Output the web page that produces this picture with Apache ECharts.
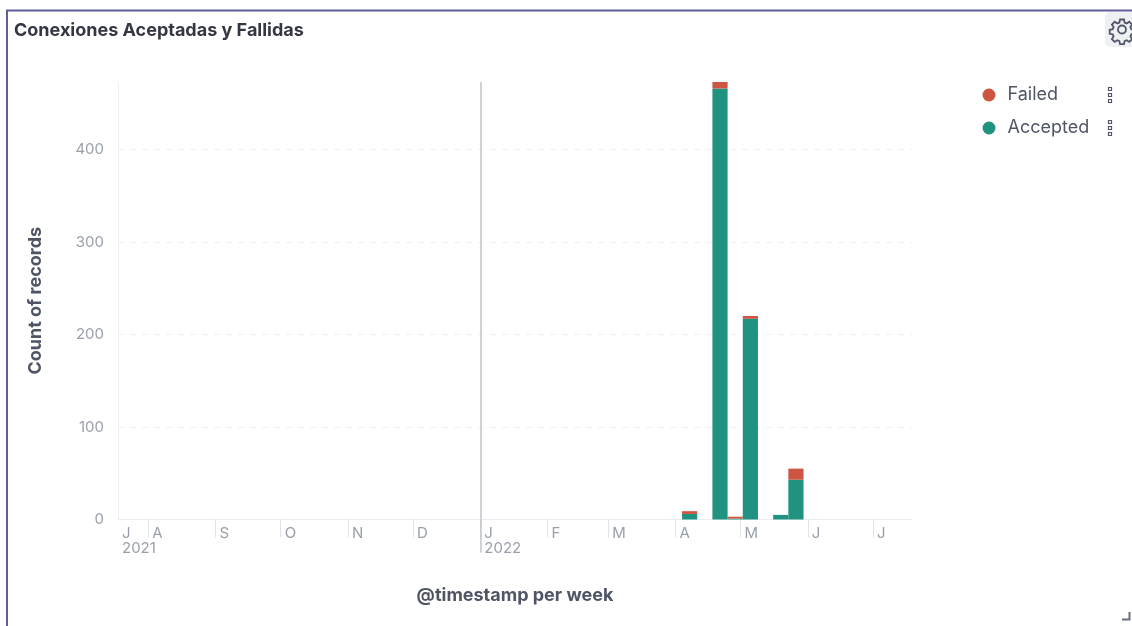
<!DOCTYPE html>
<html>
<head>
<meta charset="utf-8">
<style>html,body{margin:0;padding:0;background:#fff}#chart{width:1132px;height:626px}</style>
<script src="https://cdn.jsdelivr.net/npm/echarts@6/dist/echarts.min.js"></script>
</head>
<body>
<div id="chart"></div>
<script>
// Weekly buckets (Monday start) with at least one record
const weekStarts = ['2022-04-04', '2022-04-18', '2022-04-25', '2022-05-02', '2022-05-16', '2022-05-23'];
const accepted = [6, 466, 1, 217, 5, 43];
const failed = [3, 7, 2, 3, 0, 12];

// Month ticks along the time axis
const axisStart = '2021-07-18';
const axisEnd = '2022-07-19';
const monthTicks = ['2021-08-01', '2021-09-01', '2021-10-01', '2021-11-01', '2021-12-01', '2022-01-01',
  '2022-02-01', '2022-03-01', '2022-04-01', '2022-05-01', '2022-06-01', '2022-07-01'];
const yearStart = '2022-01-01';
const yTicks = [0, 100, 200, 300, 400];

const WEEK = 7 * 864e5;
const ms = d => Date.parse(d + 'T00:00:00Z');

// Each bar spans its whole bucket: [week start, week end, stack base, stack top]
const acceptedRows = weekStarts.map((d, i) => [ms(d), ms(d) + WEEK, 0, accepted[i]]);
const failedRows = weekStarts.map((d, i) => [ms(d), ms(d) + WEEK, accepted[i], accepted[i] + failed[i]]);

const renderWeekBar = (params, api) => {
  const low = api.coord([api.value(0), api.value(2)]);
  const high = api.coord([api.value(1), api.value(3)]);
  return {
    type: 'rect',
    shape: { x: low[0], y: high[1], width: high[0] - low[0], height: low[1] - high[1] },
    style: { fill: api.visual('color') }
  };
};

const monthLetter = v => 'JFMAMJJASOND'[new Date(v).getUTCMonth()];
const yearOf = v => String(new Date(v).getUTCFullYear());

const grip = (x, y) => [0, 6, 12].map(o => ({
  type: 'rect',
  shape: { x: x, y: y + o, width: 3, height: 3 },
  style: { fill: '#fff', stroke: '#4F5565', lineWidth: 1.2 },
  silent: true
}));

// Settings cog for the panel corner
echarts.graphic.registerShape('cog', echarts.graphic.extendPath(
  'M12 8a4 4 0 1 0 0 8 4 4 0 0 0 0-8zM10 2h4l.6 3 2.1.9 2.6-1.7 2.8 2.8-1.7 2.6.9 2.1 3 .6v4l-3 .6-.9 2.1 1.7 2.6-2.8 2.8-2.6-1.7-2.1.9-.6 3h-4l-.6-3-2.1-.9-2.6 1.7-2.8-2.8 1.7-2.6-.9-2.1-3-.6v-4l3-.6.9-2.1-1.7-2.6 2.8-2.8 2.6 1.7 2.1-.9z',
  {}
));

const tickText = { fontFamily: 'Inter', fontSize: 15, color: '#9AA0AB' };
const axisTitle = { fontFamily: 'Inter', fontSize: 18, fontWeight: 700, color: '#4F5565' };

const chart = echarts.init(document.getElementById('chart'), null, { renderer: 'canvas' });
chart.setOption({
  animation: false,
  backgroundColor: '#fff',
  textStyle: { fontFamily: 'Inter' },
  title: {
    text: 'Conexiones Aceptadas y Fallidas',
    left: 9, top: 17,
    textStyle: { fontFamily: 'Inter', fontSize: 18, fontWeight: 700, color: '#343741' }
  },
  legend: {
    orient: 'vertical',
    left: 977.5, top: 81,
    itemGap: 15,
    itemWidth: 13, itemHeight: 13,
    icon: 'circle',
    data: ['Failed', 'Accepted'],
    textStyle: { fontFamily: 'Inter', fontSize: 18, color: '#4F5565', padding: [0, 0, 0, 7] },
    selectedMode: false
  },
  grid: { left: 118, right: 220, top: 82, bottom: 106.5 },
  xAxis: [
    {
      // Month row
      type: 'value',
      position: 'bottom',
      min: ms(axisStart),
      max: ms(axisEnd),
      name: '@timestamp per week',
      nameLocation: 'middle',
      nameGap: 67,
      nameTextStyle: axisTitle,
      axisLine: { show: true, lineStyle: { color: '#E9EDF3', width: 1 } },
      axisTick: {
        show: true, length: 18,
        lineStyle: { color: '#E0E4EA', width: 1 },
        customValues: monthTicks.map(ms)
      },
      axisLabel: Object.assign({
        show: true,
        customValues: [ms(axisStart)].concat(monthTicks.map(ms)),
        formatter: monthLetter,
        align: 'left',
        verticalAlign: 'top',
        margin: 6,
        padding: [0, 0, 0, 4],
        showMinLabel: true, showMaxLabel: true
      }, tickText),
      splitLine: { show: false }
    },
    {
      // Year row, whose boundary carries a longer, darker tick than the months
      type: 'value',
      position: 'bottom',
      min: ms(axisStart),
      max: ms(axisEnd),
      axisLine: { show: false },
      axisLabel: Object.assign({
        show: true,
        customValues: [ms(axisStart), ms(yearStart)],
        formatter: yearOf,
        align: 'left',
        verticalAlign: 'top',
        margin: 21,
        padding: [0, 0, 0, 4],
        showMinLabel: true, showMaxLabel: true
      }, tickText),
      splitLine: { show: false },
      axisTick: {
        show: true, length: 33,
        lineStyle: { color: '#BFC3C9', width: 1.5 },
        customValues: [ms(yearStart)]
      }
    }
  ],
  yAxis: {
    type: 'value',
    min: 0, max: 473,
    name: 'Count of records',
    nameLocation: 'middle',
    nameGap: 73,
    nameTextStyle: axisTitle,
    axisLine: { show: true, lineStyle: { color: '#EEF0F3', width: 1 } },
    axisTick: { show: false, customValues: yTicks },
    axisLabel: Object.assign({ customValues: yTicks, margin: 14 }, tickText),
    splitLine: { show: true, lineStyle: { color: '#EEF0F3', type: [6, 6], width: 1 } }
  },
  series: [
    {
      name: 'Accepted', type: 'custom', renderItem: renderWeekBar,
      encode: { x: [0, 1], y: [2, 3] },
      itemStyle: { color: '#209280' },
      data: acceptedRows,
      markLine: {
        silent: true, symbol: 'none', animation: false, label: { show: false },
        lineStyle: { color: '#BFC3C9', type: 'solid', width: 1.5 },
        data: [{ xAxis: ms(yearStart) }]
      }
    },
    {
      name: 'Failed', type: 'custom', renderItem: renderWeekBar,
      encode: { x: [0, 1], y: [2, 3] },
      itemStyle: { color: '#CC5642' },
      data: failedRows
    }
  ],
  graphic: [
    { type: 'rect', shape: { x: 7, y: 10.5, width: 1300, height: 800 }, style: { fill: 'none', stroke: '#5F5F9A', lineWidth: 2 }, silent: true },
    { type: 'rect', shape: { x: 1105, y: 12, width: 60, height: 35, r: 5 }, style: { fill: '#EEF0F3' }, silent: true },
    {
      type: 'cog', x: 1110, y: 17.5,
      style: { fill: 'none', stroke: '#4F5565', lineWidth: 1.8 }, silent: true
    },
    ...grip(1108.5, 87.5),
    ...grip(1108.5, 120.5),
    { type: 'polyline', shape: { points: [[1122, 619.5], [1129.5, 619.5], [1129.5, 612]] }, style: { fill: 'none', stroke: '#69707D', lineWidth: 2 }, silent: true }
  ]
});
</script>
</body>
</html>
